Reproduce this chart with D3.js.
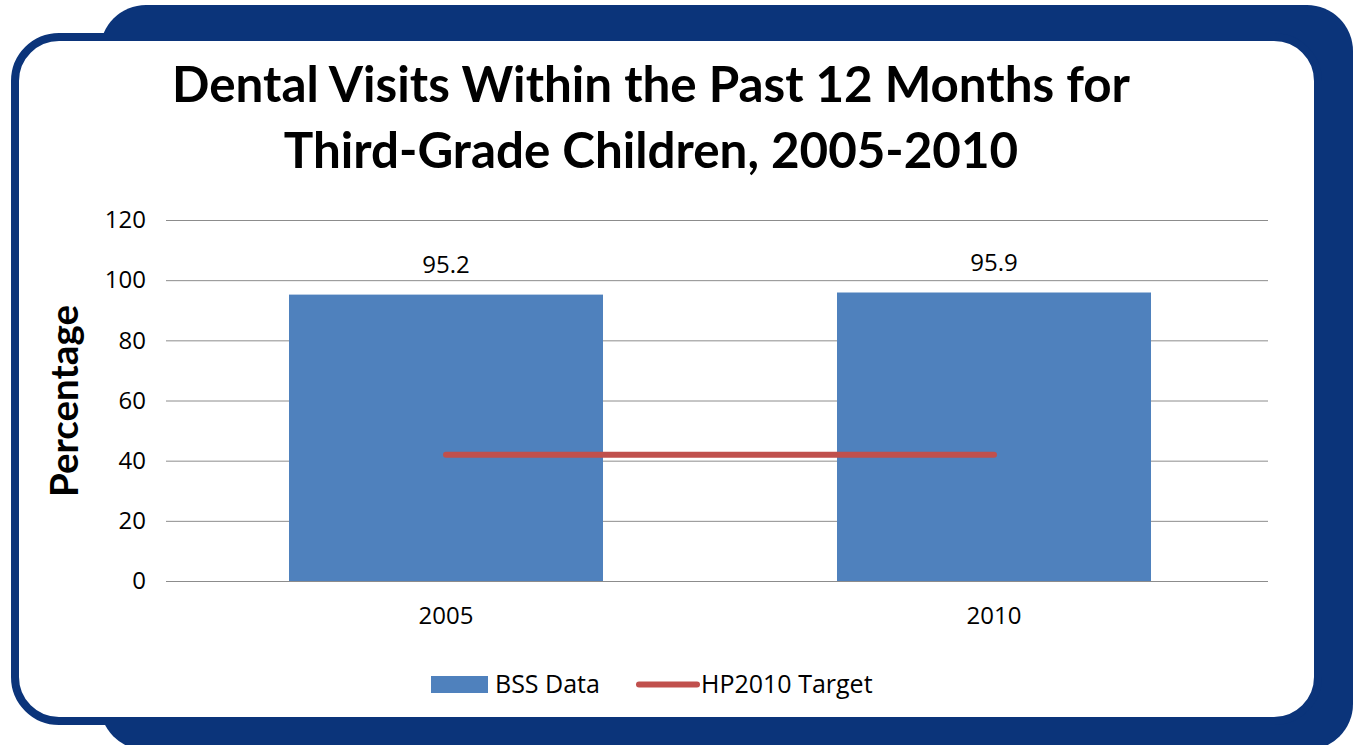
<!DOCTYPE html>
<html>
<head>
<meta charset="utf-8">
<script src="https://cdn.jsdelivr.net/npm/d3@7"></script>
<style>
  html, body { margin: 0; padding: 0; background: #fff; }
  svg { display: block; font-family: "Open Sans", "DejaVu Sans", sans-serif; }
</style>
</head>
<body>
<div id="chart"></div>
<script>
// data
const years = ["2005", "2010"];
const bssData = [95.2, 95.9];
const hpTarget = [42, 42];
const yTicks = [0, 20, 40, 60, 80, 100, 120];
const titleLines = ["Dental Visits Within the Past 12 Months for", "Third-Grade Children, 2005-2010"];

const width = 1356, height = 745;
const navy = "#0b347a";
const barColor = "#4f81bd";
const lineColor = "#c0504d";
const gridColor = "#8c8c8c";

const margin = { top: 220, right: 88, bottom: 164, left: 172 };
const iw = width - margin.left - margin.right;
const ih = height - margin.top - margin.bottom;

const svg = d3.select("#chart").append("svg")
  .attr("width", width).attr("height", height)
  .attr("viewBox", `0 0 ${width} ${height}`);

// frame: big navy tab behind a white rounded panel with navy outline
svg.append("rect")
  .attr("x", 100).attr("y", 5)
  .attr("width", 1253).attr("height", 745)
  .attr("rx", 46).attr("fill", navy);
svg.append("rect")
  .attr("x", 15).attr("y", 37)
  .attr("width", 1303).attr("height", 684)
  .attr("rx", 44).attr("fill", "#fff")
  .attr("stroke", navy).attr("stroke-width", 8);

// fit a text node to a given length by changing its font size
function fitWidth(sel, node, target) {
  sel.style("font-size", "40px");
  const w = node.getComputedTextLength();
  sel.style("font-size", `${40 * target / w}px`);
}

// title
const title = svg.append("text")
  .attr("text-anchor", "middle")
  .attr("font-weight", "bold")
  .style("font-family", "Lato, \"Open Sans\", sans-serif")
  .attr("fill", "#000");
title.selectAll("tspan")
  .data(titleLines)
  .join("tspan")
  .attr("x", 651)
  .attr("y", (d, i) => 102 + i * 66)
  .text((d) => d);
fitWidth(title, title.select("tspan").node(), 958);

const g = svg.append("g").attr("transform", `translate(${margin.left},${margin.top})`);

const x = d3.scaleBand()
  .domain(years)
  .range([0, iw])
  .paddingInner(0.427)
  .paddingOuter(0.2135);

const y = d3.scaleLinear().domain([0, 120]).range([ih, 0]);

// gridlines + y axis
const yAxis = g.append("g")
  .call(d3.axisLeft(y).tickValues(yTicks).tickSize(6).tickPadding(20))
  .call((a) => a.select(".domain").remove());
yAxis.selectAll(".tick line")
  .attr("stroke", gridColor)
  .attr("x2", iw).attr("x1", -6);
yAxis.selectAll(".tick text")
  .attr("fill", "#000")
  .style("font-size", "24px")
  .style("font-family", "\"Open Sans\", sans-serif");

// bars
g.selectAll("rect.bar")
  .data(bssData)
  .join("rect")
  .attr("class", "bar")
  .attr("x", (d, i) => x(years[i]))
  .attr("y", (d) => y(d))
  .attr("width", x.bandwidth())
  .attr("height", (d) => y(0) - y(d))
  .attr("fill", barColor);

// bar value labels
g.selectAll("text.val")
  .data(bssData)
  .join("text")
  .attr("class", "val")
  .attr("x", (d, i) => x(years[i]) + x.bandwidth() / 2)
  .attr("y", (d) => y(d) - 22)
  .attr("text-anchor", "middle")
  .style("font-size", "24px")
  .attr("fill", "#000")
  .text((d) => d.toFixed(1));

// HP2010 target line
const line = d3.line()
  .x((d, i) => x(years[i]) + x.bandwidth() / 2)
  .y((d) => y(d));
g.append("path")
  .datum(hpTarget)
  .attr("d", line)
  .attr("fill", "none")
  .attr("stroke", lineColor)
  .attr("stroke-width", 6)
  .attr("stroke-linecap", "round");

// x axis labels
const xAxis = g.append("g")
  .attr("transform", `translate(0,${ih})`)
  .call(d3.axisBottom(x).tickSize(0).tickPadding(26));
xAxis.select(".domain").remove();
xAxis.selectAll(".tick text")
  .attr("fill", "#000")
  .style("font-size", "24px")
  .style("font-family", "\"Open Sans\", sans-serif");

// y axis title
const yTitle = svg.append("text")
  .attr("transform", "translate(78,401) rotate(-90)")
  .attr("text-anchor", "middle")
  .attr("font-weight", "bold")
  .style("font-family", "Lato, \"Open Sans\", sans-serif")
  .attr("fill", "#000")
  .text("Percentage");
fitWidth(yTitle, yTitle.node(), 192);

// legend
const lg = svg.append("g").attr("transform", "translate(431,676)");
lg.append("rect")
  .attr("width", 57).attr("height", 17)
  .attr("fill", barColor);
lg.append("text")
  .attr("x", 64).attr("y", 17)
  .style("font-size", "25px")
  .attr("fill", "#000")
  .text("BSS Data");
lg.append("line")
  .attr("x1", 208).attr("x2", 266)
  .attr("y1", 8.5).attr("y2", 8.5)
  .attr("stroke", lineColor)
  .attr("stroke-width", 6)
  .attr("stroke-linecap", "round");
lg.append("text")
  .attr("x", 270).attr("y", 17)
  .style("font-size", "25px")
  .attr("fill", "#000")
  .text("HP2010 Target");
</script>
</body>
</html>
